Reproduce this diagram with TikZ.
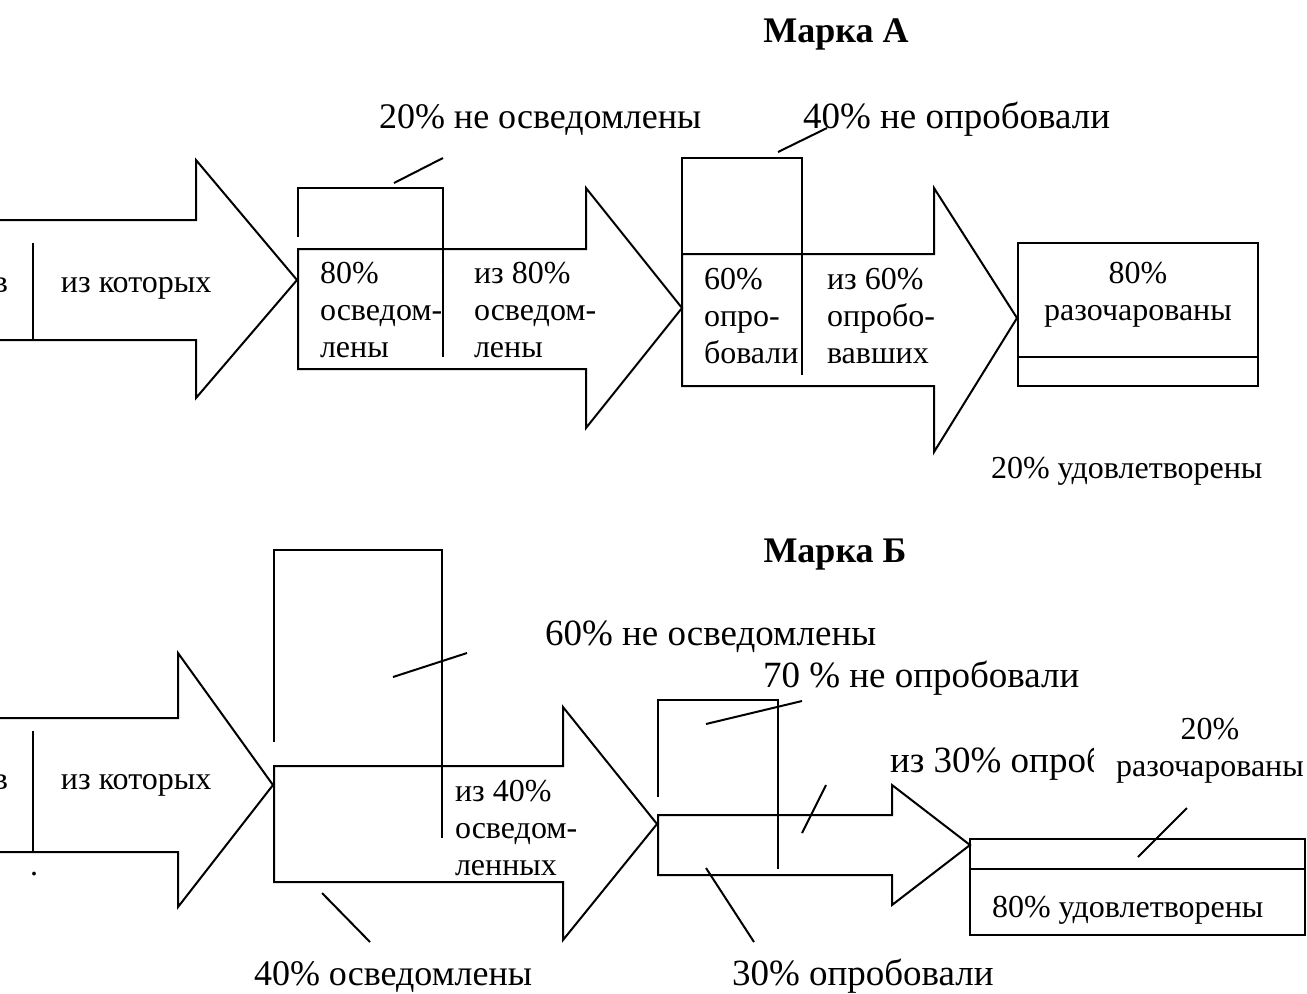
\documentclass[tikz,border=0pt]{standalone}
\usepackage{fontspec}
\setmainfont{Liberation Serif}
\begin{document}
\begin{tikzpicture}[x=0.5pt, y=-0.5pt, line width=1pt,
  lbl/.style={font=\fontsize{18.5}{21}\selectfont, inner sep=0pt},
  txt/.style={font=\fontsize{16}{18.5}\selectfont, inner sep=0pt, align=left},
  ttl/.style={font=\fontsize{18}{21}\selectfont\bfseries, inner sep=0pt}]
\useasboundingbox (0,0) rectangle (1307,993);
\clip (0,0) rectangle (1307,993);

% brand A (top row)
\node[ttl, anchor=base] (titleA) at (836,42) {Марка А};
% arrow 1, cut by the left edge
\draw (0,220) -- (196,220) -- (196,160) -- (297,280) -- (196,398) -- (196,340) -- (0,340);
\draw (33,243) -- (33,340);
\node[txt, anchor=base east] (inA) at (9,292) {в};
\node[txt, anchor=base east] (inAb) at (2,328) {.};
\node[txt, anchor=base west] (ofA) at (60,292) {из которых};
% arrow 2 with the box of the not aware
\draw (298,237) -- (298,188) -- (443,188) -- (443,357);
\draw (298,249) -- (586,249) -- (586,188) -- (682,308) -- (586,428) -- (586,369) -- (298,369) -- cycle;
\node[txt, anchor=north west] (awA) at (319,261) {80\%\\осведом-\\лены};
\node[txt, anchor=north west] (ofawA) at (473,261) {из 80\%\\осведом-\\лены};
\node[lbl, font=\fontsize{18}{21}\selectfont, anchor=base west] (notawA) at (378,128) {20\% не осведомлены};
\coordinate (notawA1) at (394,183);
\coordinate (notawA2) at (443,158);
\draw (notawA1) -- (notawA2);
% arrow 3 with the box of the not tried
\draw (682,254) -- (682,158) -- (802,158) -- (802,375);
\draw (682,254) -- (934,254) -- (934,188) -- (1017,318) -- (934,452) -- (934,386) -- (682,386) -- cycle;
\node[txt, anchor=north west] (trA) at (703,267) {60\%\\опро-\\бовали};
\node[txt, anchor=north west] (oftrA) at (826,267) {из 60\%\\опробо-\\вавших};
\node[lbl, anchor=base west] (nottrA) at (802,128) {40\% не опробовали};
\coordinate (nottrA1) at (778,152);
\coordinate (nottrA2) at (827,128);
\draw (nottrA1) -- (nottrA2);
% result box
\draw (1018,243) rectangle (1258,386);
\draw (1018,357) -- (1258,357);
\node[txt, align=center, anchor=north] (disA) at (1138,261) {80\%\\разочарованы};
\node[txt, anchor=base west] (satA) at (990,478) {20\% удовлетворены};

% brand B (bottom row)
\node[ttl, anchor=base] (titleB) at (835,562) {Марка Б};
% arrow 1, cut by the left edge
\draw (0,718) -- (178,718) -- (178,653) -- (273,785) -- (178,907) -- (178,852) -- (0,852);
\draw (33,731) -- (33,852);
\node[txt, anchor=base east] (inB) at (9,789) {в};
\node[txt, anchor=base east] (inBb) at (2,825) {.};
\node[txt, anchor=base] (dotB) at (34,875) {.};
\node[txt, anchor=base west] (ofB) at (60,789) {из которых};
% arrow 2 with the box of the not aware
\draw (274,742) -- (274,550) -- (442,550) -- (442,838);
\draw (274,766) -- (563,766) -- (563,707) -- (657,824) -- (563,940) -- (563,882) -- (274,882) -- cycle;
\node[txt, anchor=north west] (ofawB) at (454,779) {из 40\%\\осведом-\\ленных};
\node[lbl, anchor=base west] (notawB) at (544,645) {60\% не осведомлены};
\coordinate (notawB1) at (393,677);
\coordinate (notawB2) at (467,653);
\draw (notawB1) -- (notawB2);
\node[lbl, font=\fontsize{18}{21}\selectfont, anchor=base west] (awB) at (253,985) {40\% осведомлены};
\coordinate (awB1) at (322,893);
\coordinate (awB2) at (370,942);
\draw (awB1) -- (awB2);
% arrow 3 with the box of the not tried
\draw (658,797) -- (658,700) -- (778,700) -- (778,869);
\draw (658,815) -- (892,815) -- (892,785) -- (970,845) -- (892,905) -- (892,875) -- (658,875) -- cycle;
\node[lbl, anchor=base west] (nottrB) at (762,687) {70 \% не опробовали};
\coordinate (nottrB1) at (706,724);
\coordinate (nottrB2) at (802,701);
\draw (nottrB1) -- (nottrB2);
% label cut by the text box on its right
\begin{scope}
\clip (0,0) rectangle (1093,993);
\node[lbl, anchor=base west] (oftrB) at (889,772) {из 30\% опроб};
\end{scope}
\coordinate (oftrB1) at (802,833);
\coordinate (oftrB2) at (826,785);
\draw (oftrB1) -- (oftrB2);
\node[lbl, anchor=base west] (trB) at (731,985) {30\% опробовали};
\coordinate (trB1) at (706,868);
\coordinate (trB2) at (754,942);
\draw (trB1) -- (trB2);
\node[txt, align=center, anchor=north] (disB) at (1210,717) {20\%\\разочарованы};
% result box
\draw (970,839) rectangle (1305,935);
\draw (970,869) -- (1305,869);
\node[txt, anchor=base west] (satB) at (991,917) {80\% удовлетворены};
\coordinate (disB1) at (1138,857);
\coordinate (disB2) at (1187,808);
\draw (disB1) -- (disB2);
\end{tikzpicture}
\end{document}
